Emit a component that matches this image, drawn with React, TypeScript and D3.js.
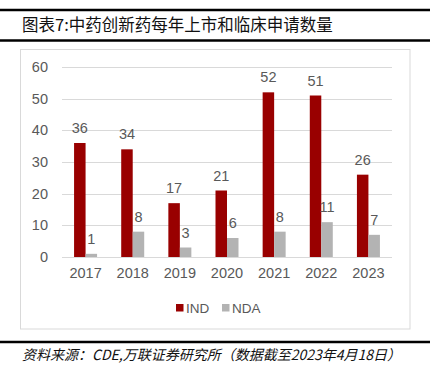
import React from "react";
import * as d3 from "d3";

const years = ["2017", "2018", "2019", "2020", "2021", "2022", "2023"];
const indValues = [36, 34, 17, 21, 52, 51, 26];
const ndaValues = [1, 8, 3, 6, 8, 11, 7];
const yTicks = [0, 10, 20, 30, 40, 50, 60];
const seriesNames = ["IND", "NDA"];
const seriesColors = ["#990000", "#b3b3b3"];
const title = "图表7:中药创新药每年上市和临床申请数量";
const source = "资料来源：CDE,万联证券研究所（数据截至2023年4月18日）";

export default function App() {
  const W = 433, H = 376;
  const x = d3.scaleBand<string>().domain(years).range([62, 392]).paddingInner(0).paddingOuter(0);
  const y = d3.scaleLinear().domain([0, 60]).range([257, 67]);
  const bw = 11.5;
  const textColor = "#595959";
  const font = "'Liberation Sans', Arial, sans-serif";
  const cjk = "'Noto Sans CJK SC', sans-serif";
  return (
    <svg width={W} height={H} style={{ position: "absolute", left: 0, top: 0, background: "#fff" }}>
      <line x1={0} x2={430} y1={10} y2={10} stroke="#000" strokeWidth={2.5} />
      <text x={22} y={31} fontFamily={cjk} fontSize={16.5} fill="#111">{title}</text>
      <line x1={0} x2={430} y1={40.5} y2={40.5} stroke="#000" strokeWidth={2.5} />
      <rect x={20.5} y={49.5} width={389.5} height={279.5} fill="none" stroke="#d9d9d9" strokeWidth={1} />
      {yTicks.map((t) => (
        <g key={t}>
          <line x1={62} x2={392} y1={Math.round(y(t)) + 0.5} y2={Math.round(y(t)) + 0.5} stroke="#d9d9d9" strokeWidth={1} />
          <text x={48} y={y(t)} dy="0.35em" textAnchor="end" fontFamily={font} fontSize={14.5} fill={textColor}>{t}</text>
        </g>
      ))}
      {years.map((yr, i) => {
        const cx = (x(yr) as number) + x.bandwidth() / 2;
        return (
          <g key={yr}>
            <rect x={cx - bw} y={y(indValues[i])} width={bw} height={y(0) - y(indValues[i])} fill={seriesColors[0]} />
            <rect x={cx} y={y(ndaValues[i])} width={bw} height={y(0) - y(ndaValues[i])} fill={seriesColors[1]} />
            <text x={cx - bw / 2} y={y(indValues[i]) - 10} textAnchor="middle" fontFamily={font} fontSize={14.5} fill={textColor}>{indValues[i]}</text>
            <text x={cx + bw / 2} y={y(ndaValues[i]) - 10} textAnchor="middle" fontFamily={font} fontSize={14.5} fill={textColor}>{ndaValues[i]}</text>
            <text x={cx} y={278} textAnchor="middle" fontFamily={font} fontSize={14.5} fill={textColor}>{yr}</text>
          </g>
        );
      })}
      {seriesNames.map((s, i) => (
        <g key={s}>
          <rect x={176 + i * 46} y={304} width={7.5} height={7.5} fill={seriesColors[i]} />
          <text x={186 + i * 46} y={313} fontFamily={font} fontSize={13.5} fill={textColor}>{s}</text>
        </g>
      ))}
      <line x1={0} x2={430} y1={342} y2={342} stroke="#000" strokeWidth={2.5} />
      <text x={22} y={360} fontFamily={cjk} fontSize={14} fontStyle="italic" fill="#111">{source}</text>
    </svg>
  );
}
